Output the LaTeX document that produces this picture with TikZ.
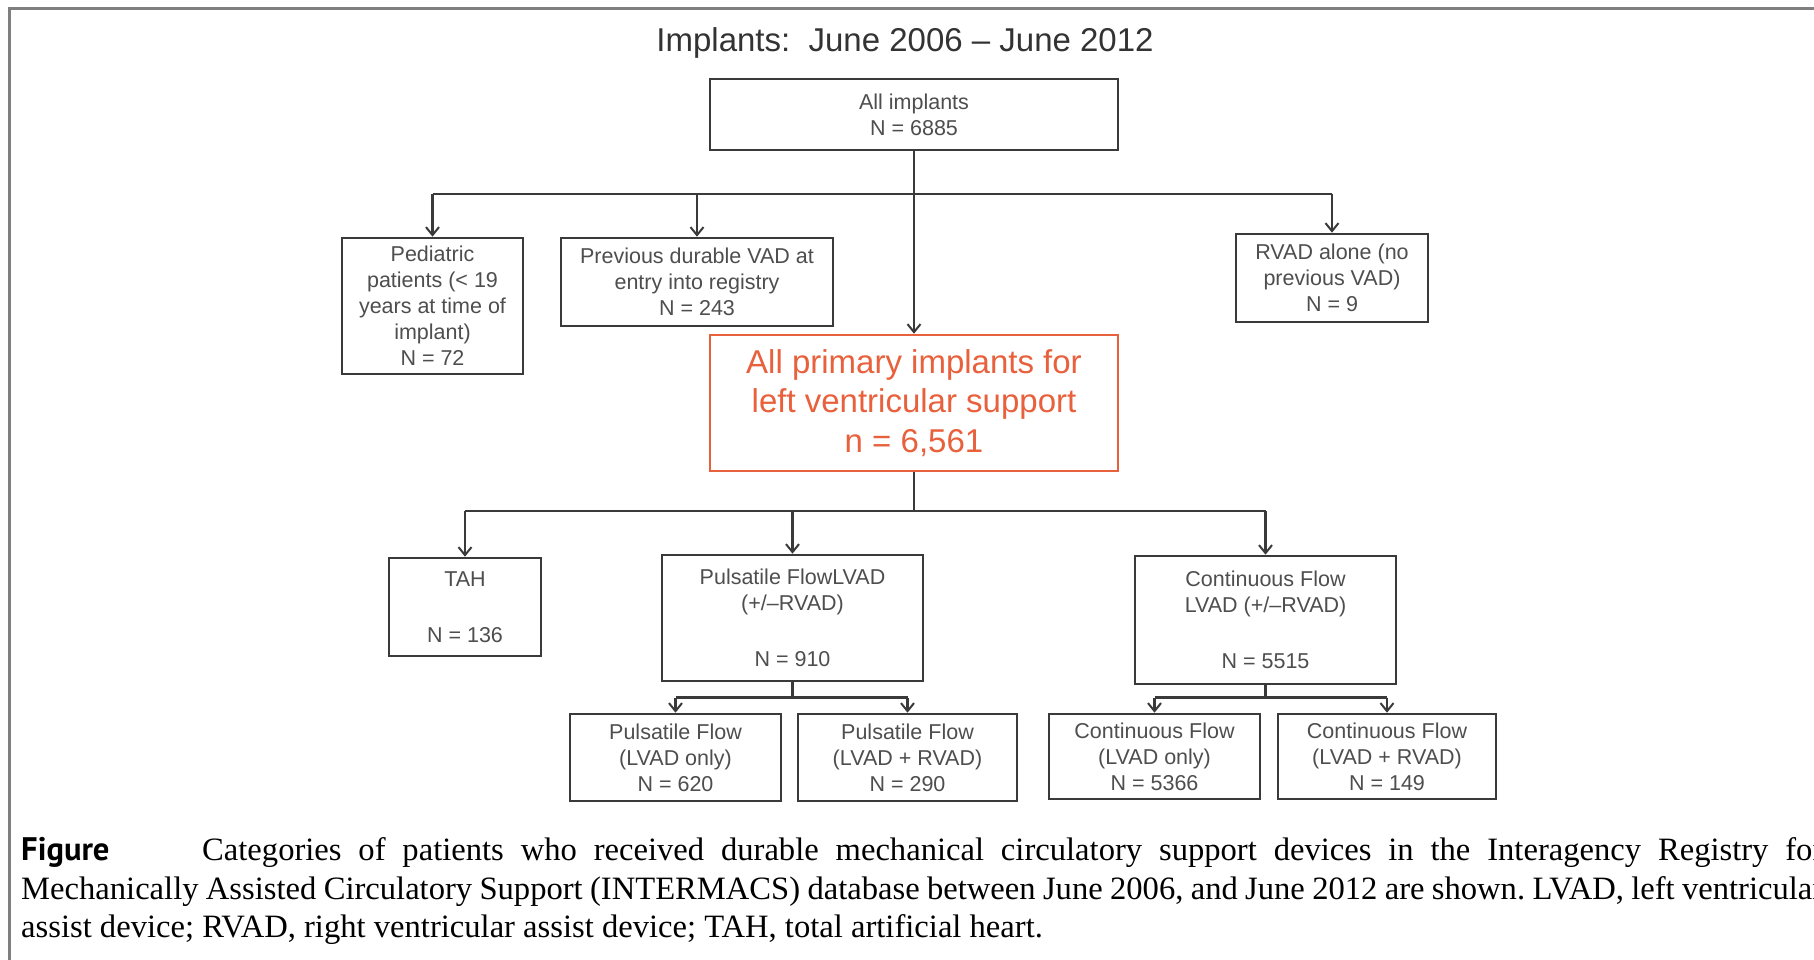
\documentclass[tikz,border=0pt]{standalone}
\usepackage{fontspec}
\setmainfont{Liberation Serif}
\newfontfamily\arialf{Liberation Sans}
\newfontfamily\figf{PT Sans}
\usetikzlibrary{arrows.meta}
\definecolor{boxgray}{HTML}{3A3A3A}
\definecolor{txtgray}{HTML}{4E4E4E}
\definecolor{redc}{HTML}{E8603C}
\definecolor{framegray}{HTML}{7F7F7F}
\begin{document}
\frenchspacing
\begin{tikzpicture}[x=1pt,y=-1pt,
  box/.style={draw=boxgray, line width=2.6pt, fill=white, align=center, inner sep=0pt,
    text=txtgray, font=\arialf\fontsize{21.5}{26}\selectfont},
  redbox/.style={draw=redc, line width=2.6pt, fill=white, align=center, inner sep=0pt,
    text=redc, font=\arialf\fontsize{33}{39.3}\selectfont},
  conn/.style={draw=boxgray, line width=2.4pt},
  arr/.style={conn, -{Straight Barb[length=8pt,width=13pt,line width=2pt]}},
]
\useasboundingbox (0,0) rectangle (1814,960);
\fill[white] (0,0) rectangle (1814,960);
\draw[framegray, line width=3pt] (9,960) -- (9,9) -- (1820,9);

% title
\node[text=black!80, font=\arialf\fontsize{33}{39}\selectfont] (title) at (905,43) {Implants:\ \ June 2006 – June 2012};

% nodes
\node[box, minimum width=408pt, minimum height=71pt] (all) at (914,114.5) {All implants\\N = 6885};
\node[box, minimum width=181pt, minimum height=136pt] (ped) at (432.5,306) {Pediatric\\patients (< 19\\years at time of\\implant)\\N = 72};
\node[box, minimum width=272pt, minimum height=88pt] (prev) at (697,282) {Previous durable VAD at\\entry into registry\\N = 243};
\node[box, minimum width=192pt, minimum height=88pt] (rvad) at (1332,278) {RVAD alone (no\\previous VAD)\\N = 9};
\node[redbox, minimum width=408pt, minimum height=136pt] (red) at (914,403) {All primary implants for\\left ventricular support\\n = 6,561};
\node[box, minimum width=152pt, minimum height=98pt] (tah) at (465,607) {TAH\\[30pt]N = 136};
\node[box, minimum width=261pt, minimum height=126pt] (puls) at (792.5,618) {Pulsatile FlowLVAD\\(+/–RVAD)\\[30pt]N = 910};
\node[box, minimum width=261pt, minimum height=128pt] (cont) at (1265.5,620) {Continuous Flow\\LVAD (+/–RVAD)\\[30pt]N = 5515};
\node[box, minimum width=211pt, minimum height=87pt] (p1) at (675.5,757.5) {Pulsatile Flow\\(LVAD only)\\N = 620};
\node[box, minimum width=219pt, minimum height=87pt] (p2) at (907.5,757.5) {Pulsatile Flow\\(LVAD + RVAD)\\N = 290};
\node[box, minimum width=211pt, minimum height=85pt] (c1) at (1154.5,756.5) {Continuous Flow\\(LVAD only)\\N = 5366};
\node[box, minimum width=218pt, minimum height=85pt] (c2) at (1387,756.5) {Continuous Flow\\(LVAD + RVAD)\\N = 149};

% bar coordinates
\coordinate (b1) at (914,194);
\coordinate (b2) at (914,511);
\coordinate (b3) at (792.5,697.5);
\coordinate (b4) at (1265.5,697.5);

% level 1
\draw[conn] (ped.north |- b1) -- (rvad.north |- b1);
\draw[arr] (all.south) -- (red.north);
\draw[arr] (ped.north |- b1) -- (ped.north);
\draw[arr] (prev.north |- b1) -- (prev.north);
\draw[arr] (rvad.north |- b1) -- (rvad.north);

% level 2
\draw[conn] (red.south) -- (b2);
\draw[conn] (tah.north |- b2) -- (cont.north |- b2);
\draw[arr] (tah.north |- b2) -- (tah.north);
\draw[arr] (puls.north |- b2) -- (puls.north);
\draw[arr] (cont.north |- b2) -- (cont.north);

% level 3
\draw[conn] (puls.south) -- (b3);
\draw[conn] (p1.north |- b3) -- (p2.north |- b3);
\draw[arr] (p1.north |- b3) -- (p1.north);
\draw[arr] (p2.north |- b3) -- (p2.north);
\draw[conn] (cont.south) -- (b4);
\draw[conn] (c1.north |- b4) -- (c2.north |- b4);
\draw[arr] (c1.north |- b4) -- (c1.north);
\draw[arr] (c2.north |- b4) -- (c2.north);

% caption
\node[anchor=north west, text width=1802pt, align=justify, inner sep=0pt,
  font=\fontsize{32.6}{38.8}\selectfont] (cap) at (21,837)
  {\makebox[181pt][l]{\figf\bfseries Figure}Categories of patients who received durable mechanical circulatory support devices in the Interagency Registry for\linebreak Mechanically Assisted Circulatory Support (INTERMACS) database between June 2006, and June 2012 are shown. LVAD, left ventricular\linebreak assist device; RVAD, right ventricular assist device; TAH, total artificial heart.};
\end{tikzpicture}
\end{document}
